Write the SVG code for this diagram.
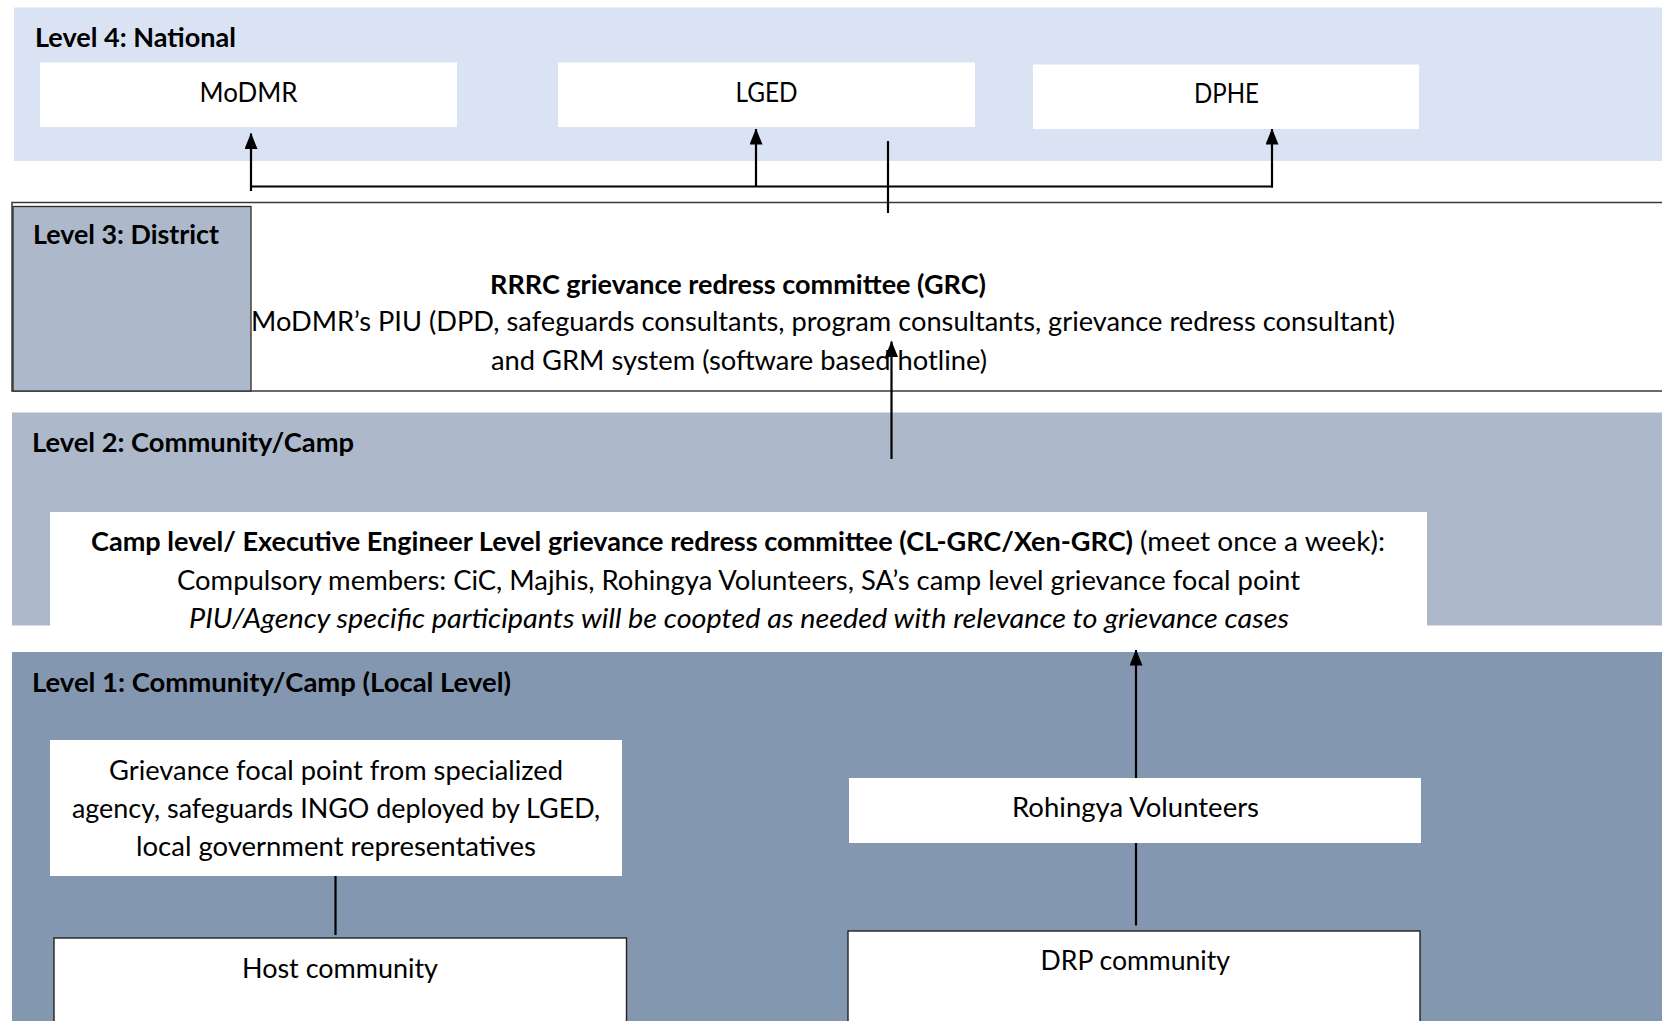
<svg xmlns="http://www.w3.org/2000/svg" width="1662" height="1021" viewBox="0 0 1662 1021">
<defs>
<style>
.t{font-family:Lato,"Open Sans","Liberation Sans",sans-serif;font-size:27px;fill:#000}
.b{font-weight:bold}
.i{font-style:italic}
.box{fill:#fff}
.obox{fill:#fff;stroke:#222;stroke-width:1.4}
.ln{stroke:#000;stroke-width:2.2;fill:none}
</style>
<marker id="ah" viewBox="0 0 16 13" markerWidth="16" markerHeight="13" refX="15.5" refY="6.5" orient="auto" markerUnits="userSpaceOnUse">
<path d="M0,0 L16,6.5 L0,13 z" fill="#000"/>
</marker>
</defs>
<rect width="1662" height="1021" fill="#fff"/>

<g id="level4">
<rect x="14" y="7.5" width="1648" height="153.5" fill="#dae3f3"/>
<text class="t b" x="35" y="46.5" textLength="201" lengthAdjust="spacingAndGlyphs">Level 4: National</text>
</g>
<g id="modmr">
<rect class="box" x="40" y="62.5" width="417" height="64.5"/>
<text class="t" x="199.5" y="101.5" textLength="98" lengthAdjust="spacingAndGlyphs">MoDMR</text>
</g>
<g id="lged">
<rect class="box" x="558" y="62.5" width="417" height="64.5"/>
<text class="t" x="735.5" y="101.5" textLength="62" lengthAdjust="spacingAndGlyphs">LGED</text>
</g>
<g id="dphe">
<rect class="box" x="1033" y="64.5" width="386" height="64.5"/>
<text class="t" x="1194" y="102.5" textLength="65" lengthAdjust="spacingAndGlyphs">DPHE</text>
</g>

<g id="level3">
<rect x="12" y="202.5" width="1660" height="188.5" fill="#fff" stroke="#3a3a3a" stroke-width="1.5"/>
<rect x="13" y="206.5" width="238" height="184.5" fill="#adb9ca" stroke="#2b2b2b" stroke-width="1.3"/>
<text class="t b" x="33" y="244" textLength="186" lengthAdjust="spacingAndGlyphs">Level 3: District</text>
</g>
<g id="rrrc-grc">
<text class="t b" x="490" y="294" textLength="496" lengthAdjust="spacingAndGlyphs">RRRC grievance redress committee (GRC)</text>
<text class="t" x="251" y="331" textLength="1144" lengthAdjust="spacingAndGlyphs">MoDMR’s PIU (DPD, safeguards consultants, program consultants, grievance redress consultant)</text>
<text class="t" x="491" y="370" textLength="496" lengthAdjust="spacingAndGlyphs">and GRM system (software based hotline)</text>
</g>

<g id="level2">
<rect x="12" y="412.5" width="1650" height="213" fill="#adb9ca"/>
<text class="t b" x="32" y="451.5" textLength="322" lengthAdjust="spacingAndGlyphs">Level 2: Community/Camp</text>
</g>

<g id="level1">
<rect x="12" y="652" width="1650" height="369" fill="#8497b0"/>
<text class="t b" x="32" y="691.5" textLength="479" lengthAdjust="spacingAndGlyphs">Level 1: Community/Camp (Local Level)</text>
</g>

<g id="cl-grc">
<rect class="box" x="50" y="512" width="1377" height="140"/>
<text class="t b" x="91" y="551" textLength="1042" lengthAdjust="spacingAndGlyphs">Camp level/ Executive Engineer Level grievance redress committee (CL-GRC/Xen-GRC)</text>
<text class="t" x="1140" y="551" textLength="245" lengthAdjust="spacingAndGlyphs">(meet once a week):</text>
<text class="t" x="177" y="589.5" textLength="1123" lengthAdjust="spacingAndGlyphs">Compulsory members: CiC, Majhis, Rohingya Volunteers, SA’s camp level grievance focal point</text>
<text class="t i" x="189" y="628" textLength="1100" lengthAdjust="spacingAndGlyphs">PIU/Agency specific participants will be coopted as needed with relevance to grievance cases</text>
</g>

<g id="focal-point">
<rect class="box" x="50" y="740" width="572" height="136"/>
<text class="t" x="109" y="779.5" textLength="454" lengthAdjust="spacingAndGlyphs">Grievance focal point from specialized</text>
<text class="t" x="72" y="817.5" textLength="528" lengthAdjust="spacingAndGlyphs">agency, safeguards INGO deployed by LGED,</text>
<text class="t" x="136" y="855.5" textLength="400" lengthAdjust="spacingAndGlyphs">local government representatives</text>
</g>

<g id="host-community">
<rect class="obox" x="54" y="938" width="572.5" height="95"/>
<text class="t" x="242" y="977.5" textLength="196" lengthAdjust="spacingAndGlyphs">Host community</text>
</g>

<g id="rohingya-volunteers">
<rect class="box" x="849" y="778" width="572" height="65"/>
<text class="t" x="1012" y="816.5" textLength="247" lengthAdjust="spacingAndGlyphs">Rohingya Volunteers</text>
</g>

<g id="drp-community">
<rect class="obox" x="848" y="931" width="572" height="100"/>
<text class="t" x="1040.5" y="969.5" textLength="189.5" lengthAdjust="spacingAndGlyphs">DRP community</text>
</g>

<g id="connectors">
<line class="ln" x1="251" y1="186.5" x2="1273" y2="186.5"/>
<line class="ln" x1="251" y1="191" x2="251" y2="133.5" marker-end="url(#ah)"/>
<line class="ln" x1="756" y1="187" x2="756" y2="129" marker-end="url(#ah)"/>
<line class="ln" x1="1272" y1="187.5" x2="1272" y2="129" marker-end="url(#ah)"/>
<line class="ln" x1="888" y1="141" x2="888" y2="213"/>
<line class="ln" x1="891.5" y1="459" x2="891.5" y2="341.5" marker-end="url(#ah)"/>
<line class="ln" x1="1136" y1="778" x2="1136" y2="650" marker-end="url(#ah)"/>
<line class="ln" x1="335.5" y1="876" x2="335.5" y2="935"/>
<line class="ln" x1="1136" y1="843" x2="1136" y2="925.5"/>
</g>
</svg>
